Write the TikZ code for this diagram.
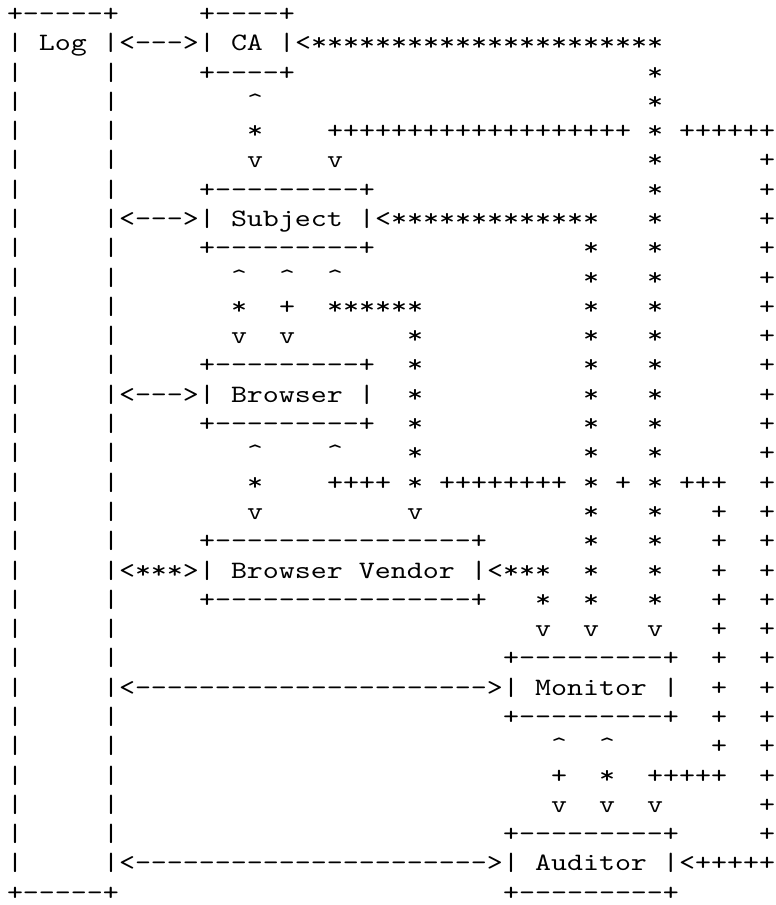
\documentclass[tikz,border=0pt]{standalone}
\usetikzlibrary{positioning}
\font\asciifont="[lmmono10-regular]:extend=1.219" at 25pt
\fontdimen2\asciifont=16pt \fontdimen3\asciifont=0pt \fontdimen4\asciifont=0pt
\tikzset{asc/.style={inner sep=0pt, outer sep=0pt, anchor=base west, font=\asciifont}}

\begin{document}
\begin{tikzpicture}[x=16pt, y=-29.29pt]
  \useasboundingbox (0pt,0pt) rectangle (776pt,-905pt);
  \begin{scope}[shift={(7pt,7.8pt)}]
  % Log box, full height
  \node[asc] (logt) at (0,1) {+-----+};
  \node[asc] (log) at (0,2) {| Log |};
  \node[asc] (logb) at (0,31) {+-----+};
  \foreach \r in {3,...,30}{
    \node[asc] (logl\r) at (0,\r) {|};
    \node[asc] (logr\r) at (6,\r) {|};}
  % the other boxes
  \foreach \n/\c/\r/\t/\e in {ca/12/2/CA/----, subj/12/8/Subject/---------,
      brw/12/14/Browser/---------, ven/12/20/Browser Vendor/----------------,
      mon/31/24/Monitor/---------, aud/31/30/Auditor/---------}{
    \node[asc] (\n t) at (\c,\r-1) {+\e+};
    \node[asc] (\n) at (\c,\r) {| \t{} |};
    \node[asc] (\n b) at (\c,\r+1) {+\e+};}
  % links to the log
  \foreach \r/\t in {2/<--->, 8/<--->, 14/<--->, 20/<***>,
      24/<---------------------->, 30/<---------------------->}
    \node[asc] (link\r) at (7,\r) {\t};
  % horizontal runs
  \foreach \r/\a/\b/\t in {2/19/40/*, 5/20/38/+, 5/42/47/+, 8/24/36/*, 11/20/25/*,
      17/20/23/+, 17/27/34/+, 17/42/44/+, 20/31/33/*, 27/40/44/+, 30/43/47/+}
    \foreach \c in {\a,...,\b}
      \node[asc] (h\r-\c) at (\c,\r) {\t};
  % vertical runs
  \foreach \c/\a/\b/\t in {40/3/21/*, 36/9/21/*, 25/12/17/*, 44/18/26/+, 47/6/29/+}
    \foreach \r in {\a,...,\b}
      \node[asc] (v\c-\r) at (\c,\r) {\t};
  % arrow heads and short hops
  \foreach \c/\r/\t in {18/2/<, 23/8/<, 30/20/<, 42/30/<,
      15/4/\textasciicircum, 15/5/*, 15/6/v, 20/6/v,
      14/10/\textasciicircum, 17/10/\textasciicircum, 20/10/\textasciicircum,
      14/11/*, 17/11/+, 14/12/v, 17/12/v,
      15/16/\textasciicircum, 20/16/\textasciicircum, 15/17/*, 38/17/+, 15/18/v, 25/18/v,
      33/21/*, 33/22/v, 36/22/v, 40/22/v,
      34/26/\textasciicircum, 37/26/\textasciicircum, 34/27/+, 37/27/*,
      34/28/v, 37/28/v, 40/28/v}
    \node[asc] (p\c-\r) at (\c,\r) {\t};
  \end{scope}
\end{tikzpicture}
\end{document}
